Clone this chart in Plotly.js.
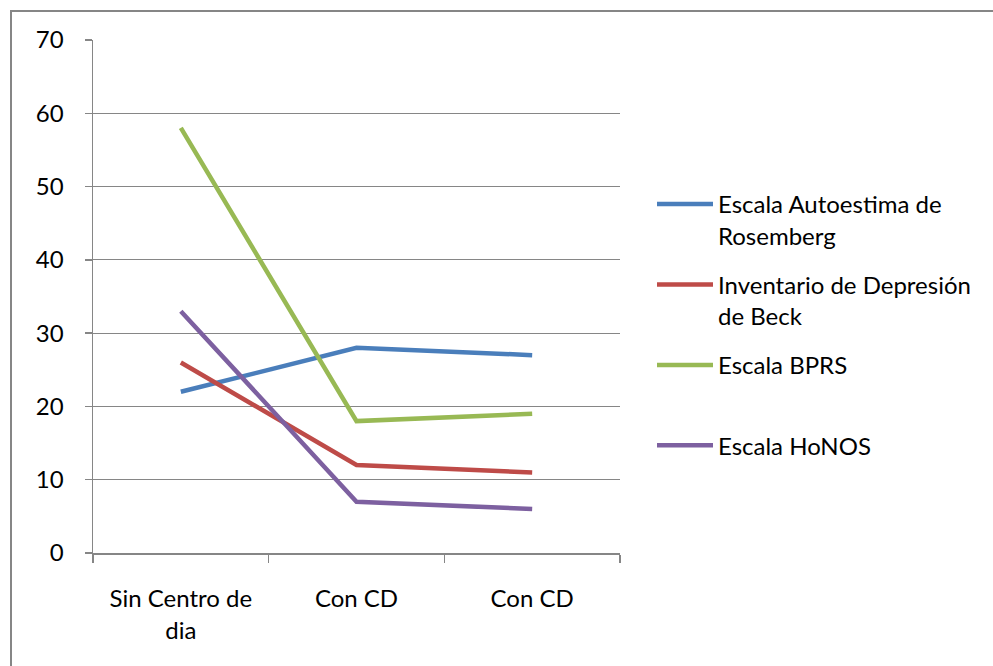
<!DOCTYPE html>
<html>
<head>
<meta charset="utf-8">
<script src="https://cdn.plot.ly/plotly-3.0.1.min.js"></script>
<style>html,body{margin:0;padding:0;background:#fff;}#chart{width:993px;height:666px;}</style>
</head>
<body>
<div id="chart"></div>
<script>
const categories = ["Sin Centro de<br>dia", "Con CD", "Con CD"];
const seriesNames = ["Escala Autoestima de<br>Rosemberg", "Inventario de Depresión<br>de Beck", "Escala BPRS<br>\u00a0", "Escala HoNOS<br>\u00a0"];
const rosemberg = [22, 28, 27];
const beck = [26, 12, 11];
const bprs = [58, 18, 19];
const honos = [33, 7, 6];
const yTicks = [0, 10, 20, 30, 40, 50, 60, 70];

const colors = ["#4A7EBB", "#BE4B48", "#98B954", "#7D60A0"];
const xs = categories.map((_, i) => i);
const allSeries = [rosemberg, beck, bprs, honos];

const traces = allSeries.map((vals, k) => ({
  type: "scatter",
  mode: "lines",
  x: xs,
  y: vals,
  name: seriesNames[k],
  legendgroup: "g" + k,
  line: {color: colors[k], width: 4.5, shape: "linear"},
  hoverinfo: "x+y+name"
}));

const F = "Lato, 'Open Sans', sans-serif";
const FS = 24;
const plotL = 93, plotR = 620, plotT = 40, plotB = 553;
const pw = plotR - plotL, ph = plotB - plotT;

const layout = {
  width: 993, height: 666,
  margin: {l: plotL, r: 993 - plotR, t: plotT, b: 666 - plotB, pad: 0},
  paper_bgcolor: "#ffffff",
  plot_bgcolor: "#ffffff",
  font: {family: F, size: FS, color: "#000000"},
  showlegend: true,
  legend: {
    x: (652 - plotL) / pw, y: (553 - 182) / ph,
    xanchor: "left", yanchor: "top",
    valign: "top",
    itemwidth: 56,
    tracegroupgap: 15,
    font: {family: F, size: FS, color: "#000"},
    bgcolor: "rgba(0,0,0,0)"
  },
  xaxis: {
    range: [-0.5, 2.5],
    tickmode: "array",
    tickvals: xs,
    ticktext: categories,
    ticks: "",
    showgrid: false,
    zeroline: false,
    showline: true,
    linecolor: "#868686",
    linewidth: 1.5,
    ticklabelstandoff: 24,
    tickfont: {family: F, size: FS, color: "#000"},
    minor: {
      tickmode: "array",
      tickvals: [-0.5, 0.5, 1.5, 2.5],
      ticks: "outside",
      ticklen: 8,
      tickwidth: 1.5,
      tickcolor: "#868686",
      showgrid: false
    },
    fixedrange: true
  },
  yaxis: {
    range: [0, 70],
    tickmode: "array",
    tickvals: yTicks,
    ticks: "outside",
    ticklen: 7,
    tickwidth: 1.5,
    tickcolor: "#868686",
    showgrid: true,
    gridcolor: "#868686",
    gridwidth: 1.2,
    zeroline: false,
    showline: true,
    linecolor: "#868686",
    linewidth: 1.5,
    ticklabelstandoff: 16,
    tickfont: {family: F, size: FS, color: "#000"},
    fixedrange: true
  },
  shapes: [{
    type: "rect", xref: "paper", yref: "paper",
    x0: (11 - plotL) / pw, x1: 3,
    y0: -3, y1: (plotB - 11) / ph,
    line: {color: "#868686", width: 2},
    fillcolor: "rgba(0,0,0,0)",
    layer: "below"
  }]
};

Plotly.newPlot("chart", traces, layout, {displayModeBar: false, staticPlot: true});
</script>
</body>
</html>
